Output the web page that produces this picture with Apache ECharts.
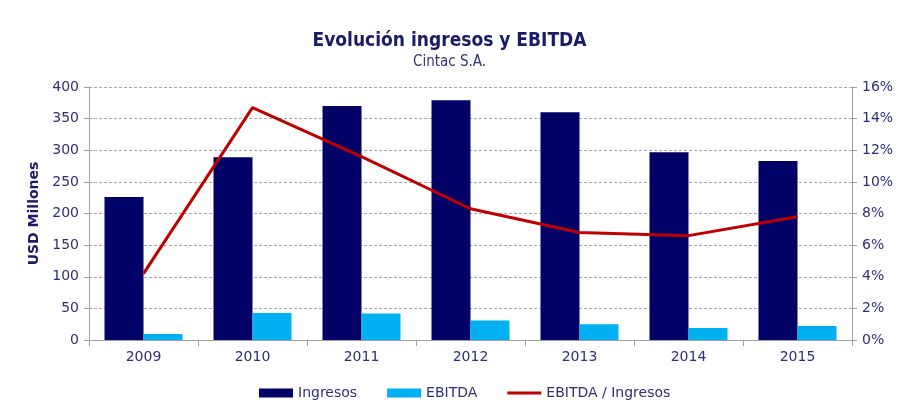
<!DOCTYPE html>
<html>
<head>
<meta charset="utf-8">
<title>Evolución ingresos y EBITDA</title>
<script src="https://cdn.jsdelivr.net/npm/echarts@6/dist/echarts.min.js"></script>
<style>
  html, body { margin: 0; padding: 0; background: #fff; }
  #chart { width: 899px; height: 414px; }
</style>
</head>
<body>
<div id="chart"></div>
<script>
// datos
const years = ['2009', '2010', '2011', '2012', '2013', '2014', '2015'];
const ingresos = [226, 289, 370, 379, 360, 297, 283];
const ebitda = [9.5, 42.5, 42, 31, 25, 19, 22];
const margen = [4.2, 14.7, 11.6, 8.3, 6.8, 6.6, 7.8];

const textColor = '#2e2e7a';
const font = 'DejaVu Sans';

const chart = echarts.init(document.getElementById('chart'));

chart.setOption({
  animation: false,
  title: {
    text: 'Evolución ingresos y EBITDA',
    subtext: 'Cintac S.A.',
    left: 'center',
    top: 27,
    itemGap: 4,
    textStyle: { fontFamily: 'DejaVu Sans Condensed', fontWeight: 'bold', fontSize: 19, color: '#1a1a66' },
    subtextStyle: { fontFamily: 'DejaVu Sans Condensed', fontSize: 15, color: '#33336e' },
  },
  legend: {
    bottom: 9,
    left: 254,
    itemWidth: 34,
    itemHeight: 9,
    itemGap: 30,
    textStyle: { fontFamily: font, fontSize: 14, color: textColor },
    data: [
      { name: 'Ingresos', icon: 'rect' },
      { name: 'EBITDA', icon: 'rect' },
      { name: 'EBITDA / Ingresos', icon: 'path://M0,3 L34,3 L34,6 L0,6 Z' },
    ],
  },
  grid: { left: 89, right: 47, top: 87, bottom: 74 },
  xAxis: {
    type: 'category',
    data: years,
    axisLine: { lineStyle: { color: '#a0a0a0' } },
    axisTick: { show: true, length: 6, lineStyle: { color: '#a0a0a0' } },
    axisLabel: { fontFamily: font, fontSize: 14, color: textColor, margin: 10 },
  },
  yAxis: [
    {
      type: 'value',
      min: 0,
      max: 400,
      interval: 50,
      name: 'USD Millones',
      nameLocation: 'middle',
      nameGap: 47,
      nameTextStyle: { fontFamily: font, fontWeight: 'bold', fontSize: 14, color: '#1a1a66' },
      axisLine: { show: true, lineStyle: { color: '#a0a0a0' } },
      axisTick: { show: true, length: 5, lineStyle: { color: '#a0a0a0' } },
      axisLabel: { fontFamily: font, fontSize: 14, color: textColor, margin: 10 },
      splitLine: { lineStyle: { color: '#a8a8a8', type: [3, 2], width: 1 } },
    },
    {
      type: 'value',
      min: 0,
      max: 16,
      interval: 2,
      axisLine: { show: true, lineStyle: { color: '#a0a0a0' } },
      axisTick: { show: true, length: 5, lineStyle: { color: '#a0a0a0' } },
      axisLabel: { fontFamily: font, fontSize: 14, color: textColor, margin: 10, formatter: '{value}%' },
      splitLine: { show: false },
    },
  ],
  series: [
    {
      name: 'Ingresos',
      type: 'bar',
      data: ingresos,
      barWidth: 39,
      barGap: '0%',
      itemStyle: { color: '#000066' },
    },
    {
      name: 'EBITDA',
      type: 'bar',
      data: ebitda,
      barWidth: 39,
      itemStyle: { color: '#00b0f0' },
    },
    {
      name: 'EBITDA / Ingresos',
      type: 'line',
      yAxisIndex: 1,
      data: margen,
      symbol: 'none',
      lineStyle: { color: '#c00000', width: 3 },
      itemStyle: { color: '#c00000' },
    },
  ],
});
</script>
</body>
</html>
